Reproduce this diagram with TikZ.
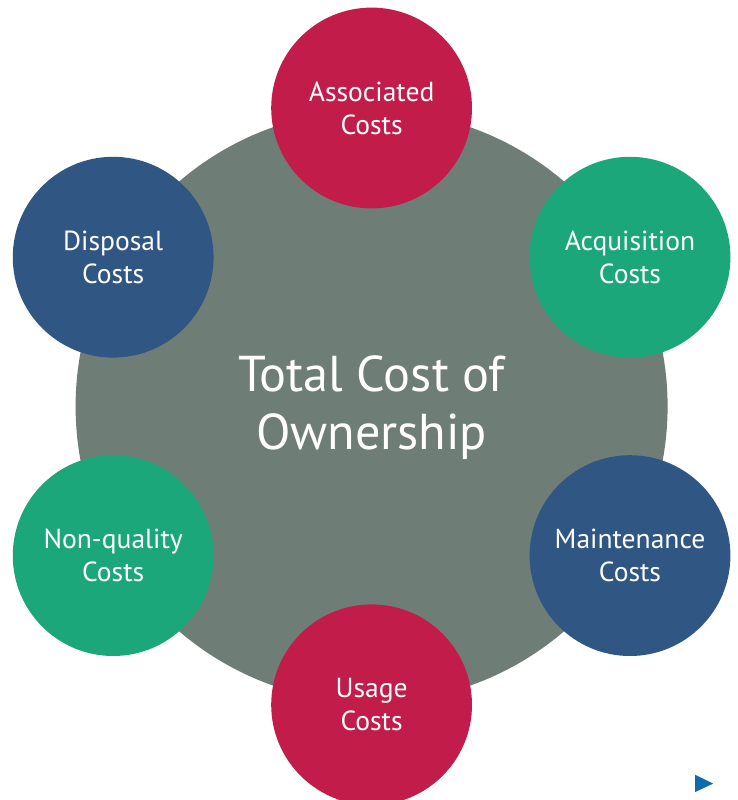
\documentclass[tikz,border=0pt]{standalone}
\usepackage{fontspec}
\setmainfont{PT Sans}
\usepackage{tikz}
\usetikzlibrary{positioning}
\definecolor{costRed}{HTML}{C21C4A}
\definecolor{costGreen}{HTML}{1BA77A}
\definecolor{costBlue}{HTML}{305684}
\definecolor{costGray}{HTML}{6E7E76}
\definecolor{navBlue}{HTML}{0D6AAD}

\begin{document}
\begin{tikzpicture}[
  part/.style={circle,minimum size=5.02cm,inner sep=0pt,text=white,align=center,
    font=\fontsize{19.6}{23.4}\selectfont},
  total/.style={circle,fill=costGray,minimum size=14.8cm,inner sep=0pt}]
\useasboundingbox (-9.29,-9.84) rectangle (9.16,10.16);
% centre : the whole cost
\node[total] (tco) at (0,0) {};
\node[text=white,align=center,font=\fontsize{35.8}{41.3}\selectfont] (tcolabel) at (0,-0.03) {Total Cost of\\Ownership};
% the six cost parts round it
\node[part,fill=costRed]   (assoc) at (90:7.46)  {Associated\\Costs};
\node[part,fill=costGreen] (acq)   at (30:7.46)  {Acquisition\\Costs};
\node[part,fill=costBlue]  (maint) at (-30:7.46) {Maintenance\\Costs};
\node[part,fill=costRed]   (usage) at (-90:7.46) {Usage\\Costs};
\node[part,fill=costGreen] (nonq)  at (210:7.46) {Non-quality\\Costs};
\node[part,fill=costBlue]  (disp)  at (150:7.46) {Disposal\\Costs};
% next-page marker
\fill[navBlue] (8.09,-9.21) -- (8.54,-9.43) -- (8.09,-9.64) -- cycle;
\end{tikzpicture}
\end{document}
